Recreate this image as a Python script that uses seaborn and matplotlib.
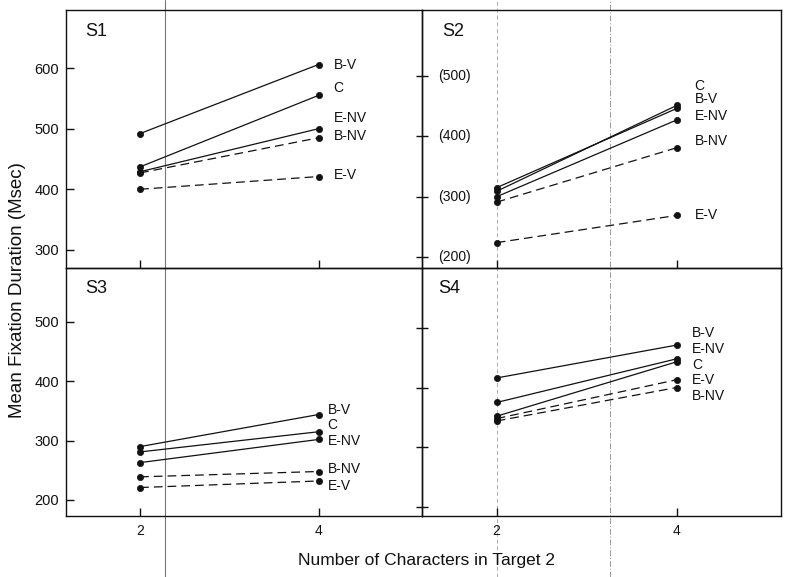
import matplotlib
matplotlib.use("Agg")
import matplotlib.pyplot as plt
from matplotlib.lines import Line2D
import seaborn as sns
import pandas as pd

sns.set_theme(style="white")
plt.rcParams['font.family'] = ['Liberation Sans', 'DejaVu Sans']

# ---- data ----
panels = ["S1", "S2", "S3", "S4"]
conditions = ["B-V", "C", "E-NV", "B-NV", "E-V"]
chars = [2, 4]
s1_vals = {"B-V": [492, 606], "C": [437, 555], "E-NV": [429, 500], "B-NV": [427, 485], "E-V": [400, 421]}
s2_vals = {"B-V": [315, 446], "C": [309, 451], "E-NV": [300, 427], "B-NV": [291, 381], "E-V": [224, 269]}
s3_vals = {"B-V": [290, 344], "C": [281, 315], "E-NV": [263, 302], "B-NV": [239, 248], "E-V": [221, 232]}
s4_vals = {"B-V": [416, 471], "C": [352, 443], "E-NV": [375, 448], "B-NV": [344, 400], "E-V": [348, 413]}
dashed_conditions = ["B-NV", "E-V"]
s1_yticks = [300, 400, 500, 600]
s2_yticks = [200, 300, 400, 500]
s34_yticks = [200, 300, 400, 500]
ylabel = "Mean Fixation Duration (Msec)"
xlabel = "Number of Characters in Target 2"

rows = []
for p, vals in zip(panels, [s1_vals, s2_vals, s3_vals, s4_vals]):
    for c in conditions:
        for x, v in zip(chars, vals[c]):
            rows.append({"panel": p, "cond": c, "chars": x, "ms": v})
df = pd.DataFrame(rows)

# ---- layout (pixels) ----
W, H = 785, 577
fig = plt.figure(figsize=(W / 100, H / 100), dpi=100)
fig.patch.set_facecolor("white")


def fax(x0, y0, x1, y1):
    return fig.add_axes([x0 / W, 1 - y1 / H, (x1 - x0) / W, (y1 - y0) / H])


ax1 = fax(66, 10, 422, 268)
ax2 = fax(422, 10, 781, 268)
ax3 = fax(66, 268, 422, 516)
ax4 = fax(422, 268, 781, 516)
axes = {"S1": ax1, "S2": ax2, "S3": ax3, "S4": ax4}
ylims = {"S1": (270, 696), "S2": (182, 609), "S3": (173, 591), "S4": (185, 600)}
yticks = {"S1": s1_yticks, "S2": s2_yticks, "S3": s34_yticks, "S4": s34_yticks}
title_x = {"S1": 0.053, "S2": 0.055, "S3": 0.053, "S4": 0.045}

# label placement (data-y of each text label at x=4)
label_y = {
    "S1": {"B-V": 605, "C": 567, "E-NV": 518, "B-NV": 488, "E-V": 424},
    "S2": {"C": 483, "B-V": 461, "E-NV": 433, "B-NV": 393, "E-V": 269},
    "S3": {"B-V": 351, "C": 326, "E-NV": 299, "B-NV": 252, "E-V": 223},
    "S4": {"B-V": 492, "E-NV": 465, "C": 438, "E-V": 413, "B-NV": 385},
}
label_x = {"S1": 4.17, "S2": 4.2, "S3": 4.1, "S4": 4.17}

ink = "#111111"
for p in panels:
    ax = axes[p]
    ax.set_facecolor("none")
    sub = df[df.panel == p]
    for c in conditions:
        d = sub[sub.cond == c]
        ls = (0, (7, 4)) if c in dashed_conditions else "-"
        sns.lineplot(data=d, x="chars", y="ms", ax=ax, color=ink, marker="o",
                     markersize=4.5, markeredgewidth=0.5, markeredgecolor=ink,
                     markerfacecolor=ink, linewidth=0.9,
                     linestyle=ls, estimator=None, legend=False)
        ax.text(label_x[p], label_y[p][c], c, fontsize=10, color=ink,
                ha="left", va="center")
    ax.set_xlim(1.17, 5.16)
    ax.set_ylim(*ylims[p])
    ax.set_xticks(chars)
    ax.set_yticks(yticks[p])
    ax.set_xlabel("")
    ax.set_ylabel("")
    for s in ax.spines.values():
        s.set_visible(True)
        s.set_color(ink)
        s.set_linewidth(1.0)
    ax.text(title_x[p], 0.95, p, transform=ax.transAxes, fontsize=13, color=ink,
            ha="left", va="top")
    ax.tick_params(axis="x", bottom=True, top=False, direction="in", length=6,
                   width=1, color=ink, labelsize=10, labelcolor=ink, pad=6)
    if p in ("S1", "S2"):
        ax.tick_params(axis="x", labelbottom=False)
    if p in ("S1", "S3"):
        ax.tick_params(axis="y", left=True, right=False, direction="in",
                       length=6, width=1, color=ink, labelsize=10.5,
                       labelcolor=ink, pad=5)
    else:
        ax.tick_params(axis="y", left=True, right=False, direction="inout",
                       length=9, width=1, color=ink, labelleft=False)

for t in s2_yticks:
    ax2.text(0.045, t, "(%d)" % t, transform=ax2.get_yaxis_transform(),
             fontsize=10, color=ink, ha="left", va="center")

fig.text(18 / W, 1 - 290 / H, ylabel, rotation=90, fontsize=13.5, color=ink,
         ha="center", va="center")
fig.text(427 / W, 1 - 561 / H, xlabel, fontsize=12.5, color=ink,
         ha="center", va="center")

# faint scan fold lines of the original page (kept behind the plot marks)
fig.add_artist(Line2D([165 / W, 165 / W], [0, 1], transform=fig.transFigure,
                      color="#777777", lw=0.8, zorder=-1))
fig.add_artist(Line2D([497 / W, 497 / W], [0, 1], transform=fig.transFigure,
                      color="#aaaaaa", lw=0.7, linestyle=(0, (4, 3)), zorder=-1))
fig.add_artist(Line2D([610 / W, 610 / W], [0, 1], transform=fig.transFigure,
                      color="#999999", lw=0.7, linestyle=(0, (6, 2, 1, 2)), zorder=-1))

fig.savefig("out.png", dpi=100, facecolor="white")
